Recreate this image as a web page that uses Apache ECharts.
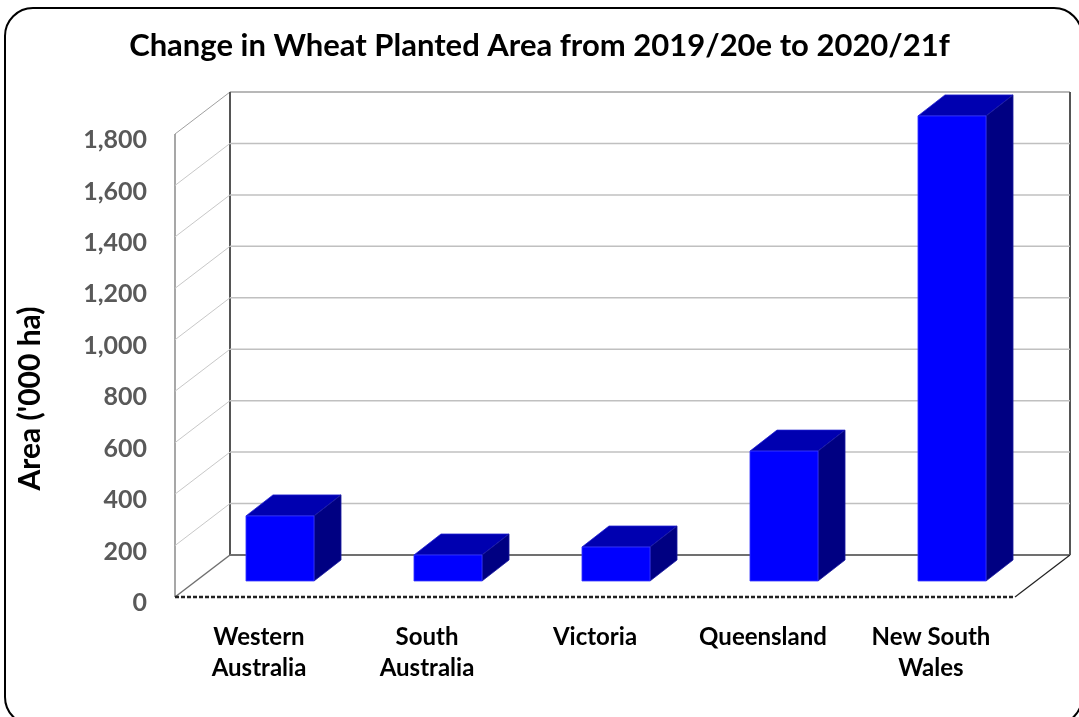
<!DOCTYPE html>
<html>
<head>
<meta charset="utf-8">
<script src="https://cdn.jsdelivr.net/npm/echarts@6/dist/echarts.min.js"></script>
<style>
html,body{margin:0;padding:0;background:#fff;}
#chart{width:1079px;height:717px;}
</style>
</head>
<body>
<div id="chart"></div>
<script>
// ---- data ----
const categories = ['Western\nAustralia', 'South\nAustralia', 'Victoria', 'Queensland', 'New South\nWales'];
const areaChange = [253, 101, 132, 505, 1808];
const yTicks = [0, 200, 400, 600, 800, 1000, 1200, 1400, 1600, 1800];
const titleText = 'Change in Wheat Planted Area from 2019/20e to 2020/21f';
const yAxisName = "Area ('000 ha)";

// ---- 3D look (style only) ----
const DX = 55, DY = -42;            // wall depth offset
const B1X = 21, B1Y = -16;          // bar front plane offset
const B2X = 48, B2Y = -37;          // bar back plane offset
const FONT = 'Lato';

const chart = echarts.init(document.getElementById('chart'), null, {renderer: 'canvas'});

function line(x1, y1, x2, y2, stroke, w, dash) {
  return {type: 'line', shape: {x1, y1, x2, y2},
    style: {stroke, lineWidth: w, lineDash: dash || null}};
}

const wallSeries = {
  type: 'custom',
  coordinateSystem: 'cartesian2d',
  silent: true,
  clip: false,
  z: 1,
  data: yTicks.map(v => [0, v]),
  renderItem: function (params, api) {
    const cs = params.coordSys;
    const L = cs.x, R = cs.x + cs.width;
    const v = api.value(1);
    const y = api.coord([0, v])[1];
    const children = [];
    if (v !== 0 && v !== yTicks[yTicks.length - 1]) {
      children.push(line(L, y, L + DX, y + DY, '#c8c8c8', 1));
      children.push(line(L + DX, y + DY, R + DX, y + DY, '#c0c0c0', 1.5));
    }
    if (params.dataIndex === 0) {
      const yTop = cs.y, yBot = cs.y + cs.height;
      children.push(line(L + DX, yTop + DY, R + DX, yTop + DY, '#a0a0a0', 1.5));
      children.push(line(L, yTop, L + DX, yTop + DY, '#a0a0a0', 1));
      children.push(line(L, yTop, L, yBot, '#8a8a8a', 1.5));
      children.push(line(L + DX, yTop + DY, L + DX, yBot + DY, '#555555', 2));
      children.push(line(R + DX, yTop + DY, R + DX, yBot + DY, '#555555', 2));
      children.push(line(L + DX, yBot + DY, R + DX, yBot + DY, '#707070', 2));
      children.push(line(L, yBot, L + DX, yBot + DY, '#707070', 1.5));
      children.push(line(R, yBot, R + DX, yBot + DY, '#222222', 1.2));
      children.push(line(L, yBot, R, yBot, '#222222', 2.5, [4, 2]));
    }
    return {type: 'group', children};
  }
};

const barSeries = {
  type: 'custom',
  coordinateSystem: 'cartesian2d',
  clip: false,
  z: 3,
  data: areaChange.map((v, i) => [i, v]),
  renderItem: function (params, api) {
    const i = api.value(0), v = api.value(1);
    const base = api.coord([i, 0]);
    const top = api.coord([i, v]);
    const band = api.size([1, 0])[0];
    const w = band * 0.405;
    const fl = base[0] - w / 2 + B1X, fr = base[0] + w / 2 + B1X;
    const yb = base[1] + B1Y, yt = top[1] + B1Y;
    const ddx = B2X - B1X, ddy = B2Y - B1Y;
    return {
      type: 'group',
      children: [
        {type: 'polygon', shape: {points: [[fl, yt], [fr, yt], [fr + ddx, yt + ddy], [fl + ddx, yt + ddy]]},
          style: {fill: '#0000b0', stroke: '#2020d0', lineWidth: 0.8}},
        {type: 'polygon', shape: {points: [[fr, yt], [fr + ddx, yt + ddy], [fr + ddx, yb + ddy], [fr, yb]]},
          style: {fill: '#000082', stroke: '#1a1aa0', lineWidth: 0.8}},
        {type: 'rect', shape: {x: fl, y: yt, width: fr - fl, height: yb - yt},
          style: {fill: '#0000ff', stroke: '#3a3aff', lineWidth: 0.8}}
      ]
    };
  }
};

const option = {
  animation: false,
  backgroundColor: '#ffffff',
  title: {
    text: titleText,
    left: 'center',
    top: 25,
    textStyle: {fontFamily: FONT, fontWeight: 'bold', fontSize: 31, color: '#000'}
  },
  grid: {left: 175, right: 64, top: 134, bottom: 120, containLabel: false},
  xAxis: {
    type: 'category',
    data: categories,
    axisLine: {show: false},
    axisTick: {show: false},
    splitLine: {show: false},
    axisLabel: {
      interval: 0, margin: 25,
      fontFamily: FONT, fontWeight: 'bold', fontSize: 24, lineHeight: 31, color: '#000'
    }
  },
  yAxis: {
    type: 'value',
    min: 0, max: 1800, interval: 200,
    name: yAxisName,
    nameLocation: 'middle',
    nameRotate: 90,
    nameGap: 130,
    nameTextStyle: {fontFamily: FONT, fontWeight: 'bold', fontSize: 30, color: '#000', padding: [0, 66, 0, 0]},
    axisLine: {show: false},
    axisTick: {show: false},
    splitLine: {show: false},
    axisLabel: {
      margin: 28,
      verticalAlign: 'top',
      lineHeight: 12,
      fontFamily: FONT, fontWeight: 'bold', fontSize: 25, color: '#595959',
      formatter: v => v.toLocaleString('en-US')
    }
  },
  graphic: [{
    type: 'rect', silent: true, z: 0,
    shape: {x: 5, y: 8, width: 1077, height: 717, r: 28},
    style: {fill: 'none', stroke: '#000', lineWidth: 2}
  }],
  series: [wallSeries, barSeries]
};
chart.setOption(option);
</script>
</body>
</html>
